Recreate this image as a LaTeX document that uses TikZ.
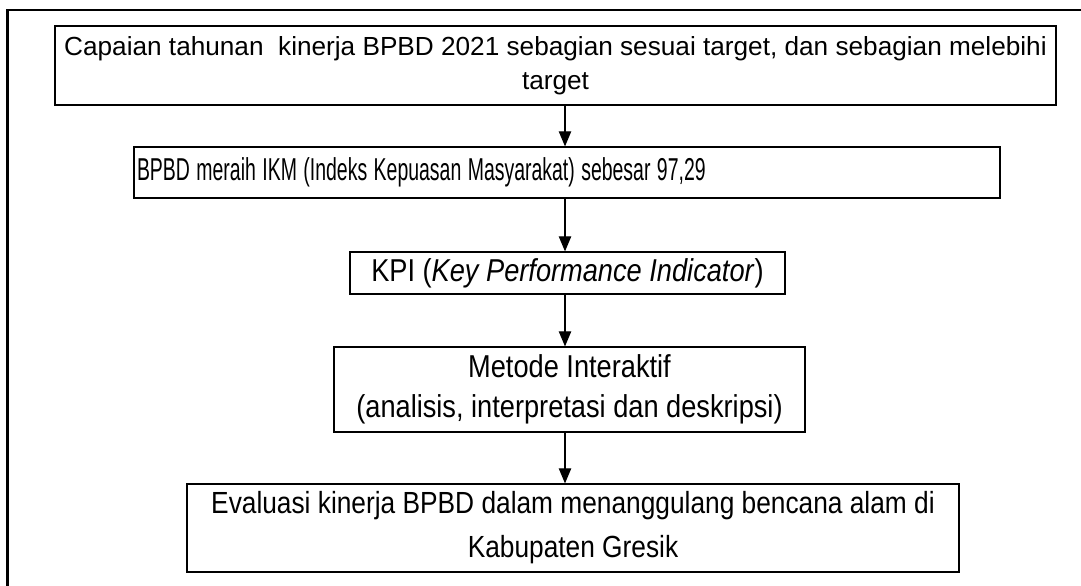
\documentclass[tikz,border=0pt]{standalone}
\usepackage{fontspec}
\setmainfont{Liberation Sans}
\newfontfamily\narrowfont[FakeStretch=0.86]{Liberation Sans}
\usetikzlibrary{arrows.meta}

\begin{document}
\begin{tikzpicture}[>={Triangle[length=8.5pt,width=7pt]},
  box/.style={draw,line width=0.7pt,inner sep=0pt,align=center},
  flow/.style={->,line width=0.6pt}]
  \useasboundingbox (0,0) rectangle (21.62,-11.72);
  % ---- outer frame, cut by the page at right and bottom ----
  \draw[line width=1.3pt] (0.15,-11.72) -- (0.15,-0.2) -- (21.62,-0.2);
  % ---- the five steps, top to bottom ----
  \node[box,minimum width=20.02cm,minimum height=1.58cm,
        font=\fontsize{14.9}{19.5}\selectfont] (capaian) at (11.11,-1.31)
    {Capaian tahunan\ \ kinerja BPBD 2021 sebagian sesuai target, dan sebagian melebihi\\target};
  \node[box,text width=17.2cm,minimum height=1.02cm,inner xsep=0.06cm,align=left,
        font=\fontsize{18}{19}\selectfont] (ikm) at (11.34,-3.45)
    {\scalebox{0.615}[1]{BPBD meraih IKM (Indeks Kepuasan Masyarakat) sebesar 97,29}};
  \node[box,minimum width=8.7cm,minimum height=0.84cm,
        font=\narrowfont\fontsize{18}{19}\selectfont] (kpi) at (11.35,-5.46)
    {KPI (\textit{Key Performance Indicator})};
  \node[box,minimum width=9.42cm,minimum height=1.7cm,
        font=\narrowfont\fontsize{18}{22.5}\selectfont] (metode) at (11.39,-7.79)
    {Metode Interaktif\\(analisis, interpretasi dan deskripsi)};
  \node[box,minimum width=15.44cm,minimum height=1.76cm,
        font=\narrowfont\fontsize{17.4}{25}\selectfont] (evaluasi) at (11.46,-10.56)
    {Evaluasi kinerja BPBD dalam menanggulang bencana alam di\\Kabupaten Gresik};
  % ---- arrows, all on one vertical ----
  \coordinate (ax) at (11.3,0);
  \draw[flow] (capaian.south -| ax) -- (ikm.north -| ax);
  \draw[flow] (ikm.south -| ax) -- (kpi.north -| ax);
  \draw[flow] (kpi.south -| ax) -- (metode.north -| ax);
  \draw[flow] (metode.south -| ax) -- (evaluasi.north -| ax);
\end{tikzpicture}
\end{document}
